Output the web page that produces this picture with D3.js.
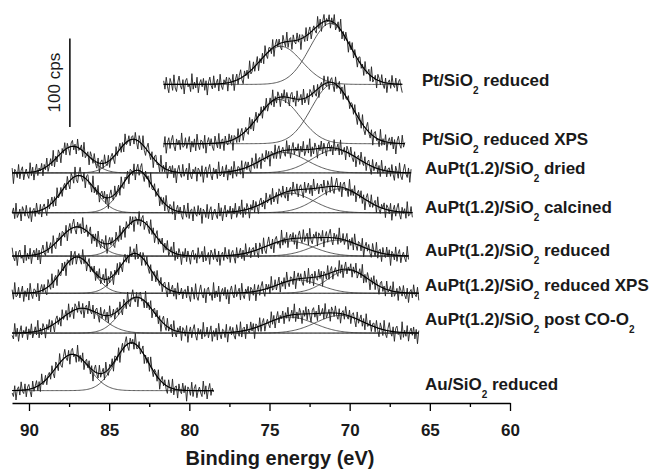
<!DOCTYPE html>
<html>
<head>
<meta charset="utf-8">
<script src="https://cdn.jsdelivr.net/npm/d3@7"></script>
<style>
  body { margin: 0; background: #fff; }
  text { font-family: "Liberation Sans", Arial, sans-serif; }
</style>
</head>
<body>
<div id="chart"></div>
<script>
// Размеры
const width = 656;
const height = 469;

// Образцы, сверху вниз ("_2" = нижний индекс 2)
const samples = [
  "Pt/SiO_2 reduced",
  "Pt/SiO_2 reduced XPS",
  "AuPt(1.2)/SiO_2 dried",
  "AuPt(1.2)/SiO_2 calcined",
  "AuPt(1.2)/SiO_2 reduced",
  "AuPt(1.2)/SiO_2 reduced XPS",
  "AuPt(1.2)/SiO_2 post CO-O_2",
  "Au/SiO_2 reduced"
];

// Смещение базовой линии каждого спектра, cps
const offsets = [360, 293, 260, 215, 166, 124, 79, 14];

// Диапазон измерения, eV [начало, конец]
const ranges = [
  [81.6, 66.7], [81.6, 66.6], [91.05, 66.2], [91.05, 66.1],
  [91.05, 66.3], [91.05, 65.7], [91.05, 65.7], [91.05, 78.5]
];

// Компоненты фита: [центр eV, высота cps, FWHM eV]
const peaks = [
  [[74.3, 43, 3.1], [71.2, 69, 3.0]],
  [[74.4, 50, 3.1], [71.1, 67, 3.0]],
  [[87.25, 30, 2.3], [83.5, 38, 2.3], [74.1, 23, 3.4], [70.9, 26, 3.4]],
  [[86.9, 42, 2.4], [83.25, 48, 2.3], [73.7, 22, 3.4], [70.6, 27, 3.4]],
  [[87.0, 33, 2.5], [83.2, 41, 2.4], [73.8, 17, 3.5], [70.75, 18, 3.5]],
  [[87.0, 41, 2.3], [83.4, 45, 2.3], [73.2, 15, 3.2], [70.1, 26, 3.0]],
  [[86.7, 28, 2.9], [83.25, 40, 2.4], [73.7, 18, 3.5], [70.6, 20, 3.5]],
  [[87.3, 41, 2.5], [83.6, 54, 2.4]]
];

// Шум измерения (остатки фита), cps
const noise = [
  3, -4, 6, -2, -7, 5, 1, -5, 8, -3,
  -6, 2, 7, -1, -4, 4, -8, 3, 5, -2,
  0, -6, 9, -4, 2, -3, 6, -7, 1, 4,
  -2, 5, -5, 3, -9, 2, 6, -1, -4, 7,
  -3, 1, 4, -6, 8, -2, -5, 3, 0, 5,
  -7, 4, 2, -3, 6, -8, 1, 5, -4, 3,
  7, -2, -6, 4, -1, 3, -5, 9, -3, -2,
  5, -4, 1, 6, -7, 2, -3, 4, -6, 8,
  -1, -5, 3, 2, -4, 7, -8, 1, 5, -2,
  4, -3, -6, 6, 0, -4, 8, -5, 2, 3,
  -7, 5, -1, -3, 6, -2, 4, -9, 3, 1,
  -4, 7, -5, 2, 5, -6, 0, 3, -2, -5,
  8, -3, 4, -7, 1, 6, -4, 2, -1, 5,
  -6, 3, -2, 7, -5, -1, 4, -3, 9, -6,
  2, -4, 5, 1, -8, 3, -2, 6, -5, 4,
  -1, -7, 3, 5, -3, 2, -6, 7, -2, 0,
  4, -5, 8, -4, -1, 3, -7, 5, 2, -3,
  6, -2, -5, 4, -8, 1, 3, -4, 7, -1,
  -3, 5, -6, 2, 4, -2, -7, 6, -3, 1,
  5, -4, 3, -6, 8, -2, -1, 4, -5, 2
];
const step = 0.08;      // шаг данных, eV
const noiseGain = 1.35;

const xTicks = [90, 85, 80, 75, 70, 65, 60];
const xMinor = [87.5, 82.5, 77.5, 72.5, 67.5, 62.5];
const scaleBar = { at: 87.45, from: 312, to: 412, label: "100 cps" };

// сдвиг подписей относительно базовой линии, px
const labelShift = [2, 1, 1, 0, 0, -2, -8, -1];

const svg = d3.select("#chart").append("svg")
  .attr("width", width)
  .attr("height", height);

// Шкалы: энергия убывает слева направо
const x = d3.scaleLinear().domain([91.06, 60]).range([12, 510]);
const y = d3.scaleLinear().domain([0, 100]).range([403, 314.5]);

const line = d3.line().x(d => x(d[0])).y(d => y(d[1]));

function gauss(e, p) {
  return p[1] * Math.exp(-4 * Math.LN2 * (e - p[0]) ** 2 / (p[2] * p[2]));
}

samples.forEach((name, i) => {
  const [e0, e1] = ranges[i];
  const n = Math.round((e0 - e1) / step);
  const es = d3.range(n + 1).map(k => e0 - k * step);
  const base = offsets[i];

  const g = svg.append("g");

  // компоненты
  peaks[i].forEach(p => {
    g.append("path")
      .attr("d", line(es.map(e => [e, base + gauss(e, p)])))
      .attr("fill", "none")
      .attr("stroke", "#333")
      .attr("stroke-width", 0.8);
  });

  const fit = es.map(e => d3.sum(peaks[i], p => gauss(e, p)));

  // измеренные данные
  g.append("path")
    .attr("d", line(es.map((e, k) => [e, base + fit[k] + noiseGain * noise[(k + i * 53) % noise.length]])))
    .attr("fill", "none")
    .attr("stroke", "#222")
    .attr("stroke-width", 0.9);

  // огибающая
  g.append("path")
    .attr("d", line(es.map((e, k) => [e, base + fit[k]])))
    .attr("fill", "none")
    .attr("stroke", "#000")
    .attr("stroke-width", 1.1);

  // подпись
  const parts = name.split("_2");
  const t = svg.append("text")
    .attr("x", i < 2 ? 422 : 425)
    .attr("y", y(base) + labelShift[i])
    .attr("font-size", 17)
    .attr("font-weight", "bold")
    .attr("fill", "#1a1a1a");
  parts.forEach((s, j) => {
    if (j > 0) {
      t.append("tspan").attr("dy", 8).attr("font-size", 10).text("2");
      t.append("tspan").attr("dy", -8).text(s);
    } else {
      t.append("tspan").text(s);
    }
  });
});

// Ось X
const axis = svg.append("g")
  .attr("transform", `translate(0, ${y(0)})`)
  .call(d3.axisBottom(x).tickValues(xTicks).tickSize(8).tickSizeOuter(0)
    .tickPadding(13).tickFormat(d3.format("d")));
axis.select(".domain").attr("stroke-width", 1.3);
axis.selectAll(".tick line").attr("stroke-width", 1.3);
axis.selectAll(".tick text")
  .attr("font-size", 17)
  .attr("font-weight", "bold")
  .attr("font-family", "Liberation Sans, Arial, sans-serif")
  .attr("fill", "#1a1a1a");

const minor = svg.append("g")
  .attr("transform", `translate(0, ${y(0)})`)
  .call(d3.axisBottom(x).tickValues(xMinor).tickSize(4).tickFormat(""));
minor.select(".domain").remove();
minor.selectAll(".tick line").attr("stroke-width", 1.3);

svg.append("text")
  .attr("x", 280)
  .attr("y", 465)
  .attr("text-anchor", "middle")
  .attr("font-size", 20)
  .attr("font-weight", "bold")
  .attr("fill", "#1a1a1a")
  .text("Binding energy (eV)");

// Масштабная линейка
svg.append("line")
  .attr("x1", x(scaleBar.at)).attr("x2", x(scaleBar.at))
  .attr("y1", y(scaleBar.from)).attr("y2", y(scaleBar.to))
  .attr("stroke", "#000")
  .attr("stroke-width", 1.5);

svg.append("text")
  .attr("transform", `translate(60, ${(y(scaleBar.from) + y(scaleBar.to)) / 2}) rotate(-90)`)
  .attr("text-anchor", "middle")
  .attr("font-size", 17)
  .attr("fill", "#1a1a1a")
  .text(scaleBar.label);
</script>
</body>
</html>
